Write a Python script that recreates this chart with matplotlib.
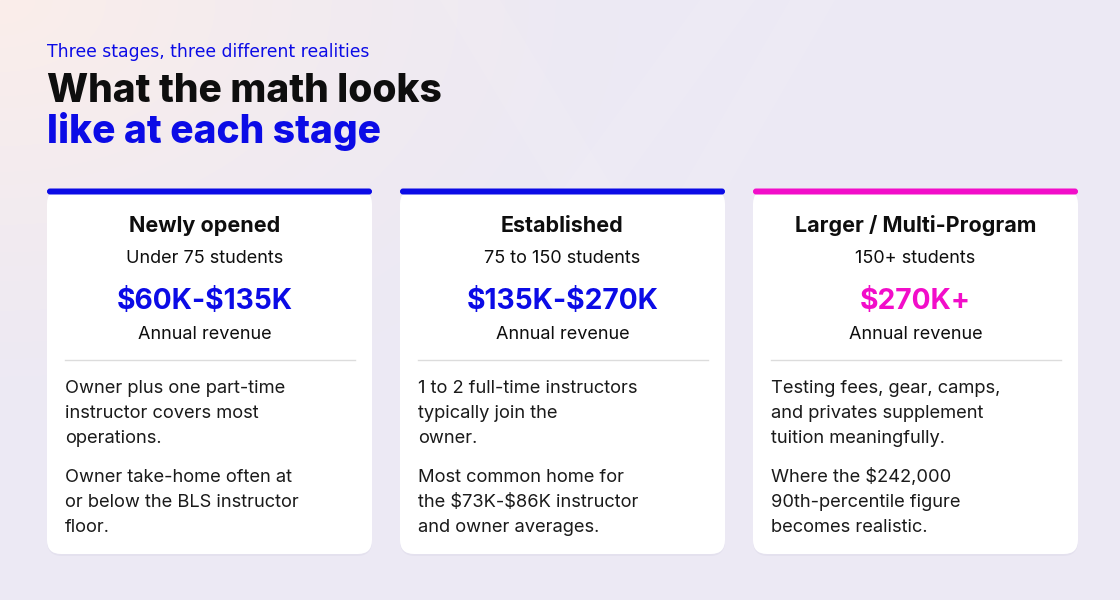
import numpy as np
import matplotlib
matplotlib.use('Agg')
from matplotlib import pyplot as plt
from matplotlib.patches import FancyBboxPatch, Polygon

plt.rcParams['text.parse_math'] = False
plt.rcParams['font.family'] = ['Inter', 'DejaVu Sans']

# Card content
stages = ['Newly opened', 'Established', 'Larger / Multi-Program']
students = ['Under 75 students', '75 to 150 students', '150+ students']
revenue = ['$60K-$135K', '$135K-$270K', '$270K+']
accent = ['#0B0BE6', '#0B0BE6', '#F20DC9']
notes_a = [
    ['Owner plus one part-time', 'instructor covers most', 'operations.'],
    ['1 to 2 full-time instructors', 'typically join the', 'owner.'],
    ['Testing fees, gear, camps,', 'and privates supplement', 'tuition meaningfully.'],
]
notes_b = [
    ['Owner take-home often at', 'or below the BLS instructor', 'floor.'],
    ['Most common home for', 'the $73K-$86K instructor', 'and owner averages.'],
    ['Where the $242,000', '90th-percentile figure', 'becomes realistic.'],
]

BLUE = '#0B0BE6'
INK = '#0E0E0E'
W, H = 1120, 600

fig = plt.figure(figsize=(11.2, 6), dpi=100)
ax = fig.add_axes([0, 0, 1, 1])
ax.set_xlim(0, W)
ax.set_ylim(H, 0)
ax.axis('off')

# background: lavender with a warm pink glow in the top-left corner
yy, xx = np.mgrid[0:H, 0:W]
base = np.array([236, 233, 244]) / 255
pink = np.array([251, 238, 234]) / 255
d = np.sqrt((xx / 620.0) ** 2 + (yy / 420.0) ** 2)
t = np.clip(1 - d, 0, 1)[..., None] ** 1.2
bg = base * (1 - t) + pink * t
ax.imshow(bg, extent=[0, W, H, 0], zorder=0, aspect='auto')

# very faint watermark strokes behind the header
for pts in [[(440, 0), (500, 0), (620, 200), (560, 200)],
            [(700, 0), (755, 0), (610, 200), (555, 200)],
            [(790, 0), (835, 0), (720, 200), (675, 200)]]:
    ax.add_patch(Polygon(pts, closed=True, facecolor='white', alpha=0.07,
                         edgecolor='none', zorder=1))

# header
ax.text(47, 57, 'Three stages, three different realities', color=BLUE,
        fontsize=12.4, family=['Liberation Sans Narrow', 'DejaVu Sans'],
        va='baseline', ha='left')
ax.text(47, 102, 'What the math looks', color=INK, fontsize=28,
        fontweight='heavy', va='baseline', ha='left')
ax.text(47, 143, 'like at each stage', color=BLUE, fontsize=28,
        fontweight='heavy', va='baseline', ha='left')

card_x = [47, 400, 753]
card_w = 325
card_top, card_bot = 190, 554
centers = [205, 562.5, 915.5]

for i in range(3):
    x0 = card_x[i]
    # soft shadow
    ax.add_patch(FancyBboxPatch((x0, card_top + 2), card_w, card_bot - card_top,
                                boxstyle='round,pad=0,rounding_size=15',
                                facecolor='#5a4f8c', alpha=0.05,
                                edgecolor='none', zorder=2))
    ax.add_patch(FancyBboxPatch((x0, card_top), card_w, card_bot - card_top,
                                boxstyle='round,pad=0,rounding_size=14',
                                facecolor='white', edgecolor='none', zorder=3))
    ax.add_patch(FancyBboxPatch((x0, 188.5), card_w, 6,
                                boxstyle='round,pad=0,rounding_size=3',
                                facecolor=accent[i], edgecolor='none', zorder=4))
    cx = centers[i]
    ax.text(cx, 232, stages[i], color=INK, fontsize=15.5, fontweight='bold',
            ha='center', va='baseline', zorder=5)
    ax.text(cx, 263, students[i], color=INK, fontsize=13,
            ha='center', va='baseline', zorder=5)
    ax.text(cx, 309, revenue[i], color=accent[i], fontsize=20.3, fontweight='bold',
            ha='center', va='baseline', zorder=5)
    ax.text(cx, 339, 'Annual revenue', color=INK, fontsize=13,
            ha='center', va='baseline', zorder=5)
    ax.plot([x0 + 18, x0 + card_w - 17], [360, 360], color='#DCDCDC', lw=1, zorder=5)

    for j, line in enumerate(notes_a[i]):
        ax.text(x0 + 18, 393 + 25 * j, line, color='#1A1A1A', fontsize=13.2,
                ha='left', va='baseline', zorder=5)
    for j, line in enumerate(notes_b[i]):
        ax.text(x0 + 18, 482 + 25 * j, line, color='#1A1A1A', fontsize=13.2,
                ha='left', va='baseline', zorder=5)

fig.savefig('out.png', dpi=100)
